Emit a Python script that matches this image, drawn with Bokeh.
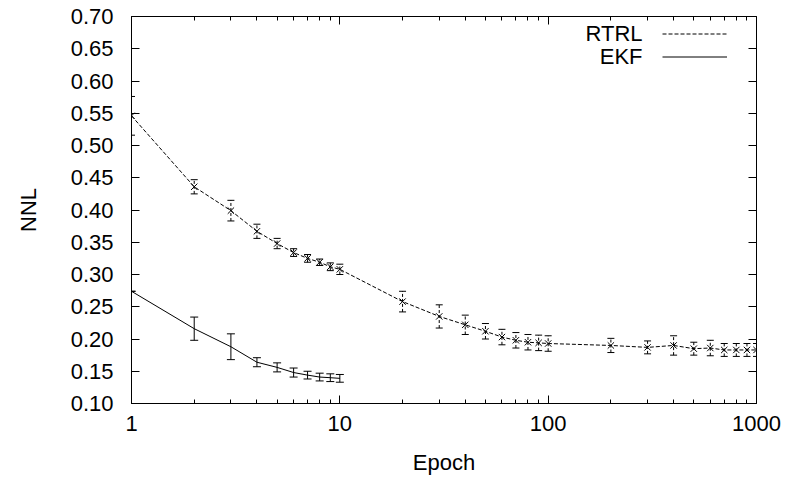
from bokeh.plotting import figure
from bokeh.models import (ColumnDataSource, Whisker, TeeHead, FixedTicker, LogAxis, LinearAxis,
                          NumeralTickFormatter, Legend, LegendItem, Range1d, CustomJSTickFormatter,
                          Label)
from bokeh.embed import file_html
from bokeh.resources import INLINE

# ---- data ----
rtrl_epoch = [1, 2, 3, 4, 5, 6, 7, 8, 9, 10,
              20, 30, 40, 50, 60, 70, 80, 90, 100,
              200, 300, 400, 500, 600, 700, 800, 900, 1000]
rtrl_nnl = [0.546, 0.436, 0.399, 0.367, 0.348, 0.334, 0.325, 0.319, 0.312, 0.308,
            0.258, 0.235, 0.222, 0.212, 0.203, 0.198, 0.195, 0.194, 0.193,
            0.190, 0.187, 0.190, 0.185, 0.186, 0.183, 0.183, 0.183, 0.183]
rtrl_err = [0.030, 0.011, 0.016, 0.011, 0.008, 0.006, 0.006, 0.005, 0.006, 0.008,
            0.016, 0.018, 0.015, 0.012, 0.012, 0.012, 0.012, 0.012, 0.012,
            0.011, 0.010, 0.015, 0.010, 0.012, 0.010, 0.010, 0.010, 0.010]

ekf_epoch = [1, 2, 3, 4, 5, 6, 7, 8, 9, 10]
ekf_nnl = [0.274, 0.216, 0.188, 0.164, 0.156, 0.148, 0.144, 0.141, 0.140, 0.139]
ekf_err = [0.0, 0.018, 0.020, 0.007, 0.007, 0.007, 0.006, 0.006, 0.006, 0.006]

x_ticks = [1, 10, 100, 1000]
y_ticks = [0.10, 0.15, 0.20, 0.25, 0.30, 0.35, 0.40, 0.45, 0.50, 0.55, 0.60, 0.65, 0.70]
series_labels = ["RTRL", "EKF"]
x_title = "Epoch"
y_title = "NNL"

FONT = "Liberation Sans"
FS = "22px"

x_minor = [m * d for d in x_ticks[:-1] for m in range(2, 10)]

rtrl_src = ColumnDataSource(dict(
    x=rtrl_epoch, y=rtrl_nnl,
    lo=[v - e for v, e in zip(rtrl_nnl, rtrl_err)],
    hi=[v + e for v, e in zip(rtrl_nnl, rtrl_err)]))
ekf_src = ColumnDataSource(dict(
    x=ekf_epoch, y=ekf_nnl,
    lo=[v - e for v, e in zip(ekf_nnl, ekf_err)],
    hi=[v + e for v, e in zip(ekf_nnl, ekf_err)]))

p = figure(width=788, height=477, x_axis_type="log",
           x_range=Range1d(x_ticks[0], x_ticks[-1]),
           y_range=Range1d(y_ticks[0], y_ticks[-1]),
           output_backend="svg", toolbar_location=None,
           min_border_left=131, min_border_right=32,
           min_border_top=16, min_border_bottom=74)

p.xgrid.visible = False
p.ygrid.visible = False
p.outline_line_color = "black"
p.outline_line_width = 1
p.background_fill_color = "white"
p.border_fill_color = "white"

def style_axis(ax):
    ax.axis_line_color = "black"
    ax.major_tick_line_color = "black"
    ax.minor_tick_line_color = "black"
    ax.major_tick_in = 8
    ax.major_tick_out = 0
    ax.minor_tick_in = 4
    ax.minor_tick_out = 0
    ax.major_label_text_font = FONT
    ax.major_label_text_font_size = FS
    ax.major_label_text_color = "black"
    ax.axis_label_text_font = FONT
    ax.axis_label_text_font_size = FS
    ax.axis_label_text_font_style = "normal"
    ax.axis_label_text_color = "black"

xt = FixedTicker(ticks=x_ticks, minor_ticks=x_minor)
yt = FixedTicker(ticks=y_ticks, minor_ticks=[])

xa = p.xaxis[0]
style_axis(xa)
xa.ticker = xt
xa.formatter = NumeralTickFormatter(format="0")
xa.axis_label = x_title
xa.major_label_standoff = 12
xa.axis_label_standoff = 16

ya = p.yaxis[0]
style_axis(ya)
ya.ticker = yt
ya.formatter = NumeralTickFormatter(format="0.00")
ya.axis_label = y_title
ya.major_label_standoff = 18
ya.axis_label_standoff = 27

# mirror ticks (gnuplot style), no labels
blank = CustomJSTickFormatter(code="return ''")
top = LogAxis(ticker=xt, formatter=blank)
style_axis(top)
top.major_label_text_font_size = "1px"
top.major_label_standoff = 0
top.axis_line_color = None
p.add_layout(top, "above")

right = LinearAxis(ticker=yt, formatter=blank)
style_axis(right)
right.major_label_text_font_size = "1px"
right.major_label_standoff = 0
right.axis_line_color = None
p.add_layout(right, "right")

# RTRL: dashed line, x markers, dashed error bars
rtrl_line = p.line("x", "y", source=rtrl_src, line_color="black", line_width=1, line_dash="4 2")
p.scatter("x", "y", source=rtrl_src, marker="x", size=9, line_color="black", line_width=1)
p.add_layout(Whisker(base="x", lower="lo", upper="hi", source=rtrl_src,
                     line_color="black", line_width=1, line_dash="3 2",
                     upper_head=TeeHead(size=7, line_color="black", line_width=1),
                     lower_head=TeeHead(size=7, line_color="black", line_width=1)))

# EKF: solid line, solid error bars
ekf_line = p.line("x", "y", source=ekf_src, line_color="black", line_width=1)
p.add_layout(Whisker(base="x", lower="lo", upper="hi", source=ekf_src,
                     line_color="black", line_width=1,
                     upper_head=TeeHead(size=8, line_color="black", line_width=1),
                     lower_head=TeeHead(size=8, line_color="black", line_width=1)))

# gnuplot-style key: text right-aligned, sample line to its right
legend = Legend(items=[LegendItem(label=" ", renderers=[rtrl_line]),
                       LegendItem(label=" ", renderers=[ekf_line])],
                location=(531, 335),
                glyph_width=65, glyph_height=23, label_height=23,
                label_standoff=0, label_text_font_size="8px",
                spacing=0, padding=0, margin=0,
                background_fill_alpha=0, border_line_color=None)
p.add_layout(legend, "center")

for i, name in enumerate(series_labels):
    p.add_layout(Label(x=511, y=370 - 23 * i, x_units="screen", y_units="screen",
                       text=name, text_align="right", text_baseline="middle",
                       text_font=FONT, text_font_size=FS, text_color="black"))

open("out.html", "w").write(file_html(p, INLINE))
